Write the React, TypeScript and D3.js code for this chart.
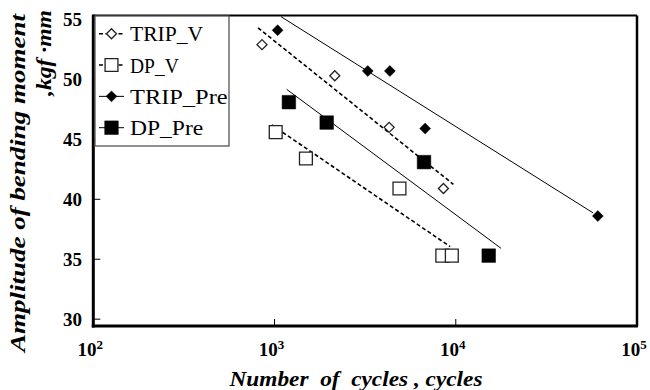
import React, { useEffect, useRef } from 'react';
import * as d3 from 'd3';

// measured points (cycles, amplitude kgf*mm)
const tripVCycles = [853, 2150, 4290, 8550];
const tripVAmp = [52.9, 50.3, 46.0, 40.9];
const dpVCycles = [1015, 1490, 4890, 8430, 9510];
const dpVAmp = [45.6, 43.4, 40.9, 35.3, 35.3];
const tripPreCycles = [1040, 3270, 4330, 6780, 60800];
const tripPreAmp = [54.1, 50.7, 50.7, 45.9, 38.6];
const dpPreCycles = [1200, 1940, 6680, 15200];
const dpPreAmp = [48.1, 46.4, 43.1, 35.3];

// fitted S-N lines (start / end)
const tripVFitCycles = [811, 9700];
const tripVFitAmp = [54.3, 41.25];
const dpVFitCycles = [966, 9310];
const dpVFitAmp = [46.2, 36.05];
const tripPreFitCycles = [1086, 57300];
const tripPreFitAmp = [55.23, 38.86];
const dpPreFitCycles = [1167, 17780];
const dpPreFitAmp = [49.17, 35.91];

const yTicks = [30, 35, 40, 45, 50, 55];
const xTickExps = [2, 3, 4, 5];
const seriesNames = ['TRIP_V', 'DP_V', 'TRIP_Pre', 'DP_Pre'];

const App = () => {
  const svgRef = useRef<SVGSVGElement>(null);

  useEffect(() => {
    const svg = d3.select(svgRef.current);
    svg.selectAll('*').remove();

    const left = 93.3, right = 637, top = 15.5, bottom = 326;
    const font = 'Liberation Serif, DejaVu Serif, serif';

    const x = d3.scaleLog().domain([1e2, 1e5]).range([left, right]);
    const y = d3.scaleLinear().domain([29.43, 55.33]).range([bottom, top]);

    const diamond = (d3 as any).symbolDiamond2 || d3.symbolDiamond;
    const series = [
      { name: seriesNames[0], cx: tripVCycles, cy: tripVAmp, fx: tripVFitCycles, fy: tripVFitAmp, sym: diamond, size: 64, fill: '#fff', dash: '4,2.5', lw: 1.6 },
      { name: seriesNames[1], cx: dpVCycles, cy: dpVAmp, fx: dpVFitCycles, fy: dpVFitAmp, sym: d3.symbolSquare, size: 165, fill: '#fff', dash: '4,2.5', lw: 1.6 },
      { name: seriesNames[2], cx: tripPreCycles, cy: tripPreAmp, fx: tripPreFitCycles, fy: tripPreFitAmp, sym: diamond, size: 76, fill: '#000', dash: null, lw: 1 },
      { name: seriesNames[3], cx: dpPreCycles, cy: dpPreAmp, fx: dpPreFitCycles, fy: dpPreFitAmp, sym: d3.symbolSquare, size: 185, fill: '#000', dash: null, lw: 1 },
    ];

    // fit lines
    series.forEach(s => {
      const pts = s.fx.map((c, i) => [x(c), y(s.fy[i])] as [number, number]);
      svg.append('path')
        .attr('d', d3.line()(pts))
        .attr('fill', 'none')
        .attr('stroke', '#000')
        .attr('stroke-width', s.lw)
        .attr('stroke-dasharray', s.dash);
    });

    // markers
    series.forEach(s => {
      svg.append('g').selectAll('path')
        .data(s.cx.map((c, i) => [c, s.cy[i]]))
        .join('path')
        .attr('transform', d => `translate(${x(d[0])},${y(d[1])})`)
        .attr('d', d3.symbol().type(s.sym).size(s.size)())
        .attr('fill', s.fill)
        .attr('stroke', s.fill === '#fff' ? '#222' : '#000')
        .attr('stroke-width', s.fill === '#fff' ? 1.3 : 0.5);
    });

    // ticks (inward)
    svg.append('g').selectAll('line')
      .data(yTicks)
      .join('line')
      .attr('x1', left).attr('x2', left + 7)
      .attr('y1', d => y(d)).attr('y2', d => y(d))
      .attr('stroke', '#000').attr('stroke-width', 1);
    svg.append('g').selectAll('line')
      .data(xTickExps)
      .join('line')
      .attr('x1', d => x(10 ** d)).attr('x2', d => x(10 ** d))
      .attr('y1', bottom).attr('y2', bottom - 7)
      .attr('stroke', '#000').attr('stroke-width', 1);

    // frame
    svg.append('line').attr('x1', left).attr('x2', right).attr('y1', top).attr('y2', top)
      .attr('stroke', '#000').attr('stroke-width', 2);
    svg.append('line').attr('x1', right).attr('x2', right).attr('y1', top).attr('y2', bottom)
      .attr('stroke', '#000').attr('stroke-width', 2.5);
    svg.append('line').attr('x1', left).attr('x2', left).attr('y1', top - 1).attr('y2', bottom + 1.5)
      .attr('stroke', '#000').attr('stroke-width', 3);
    svg.append('line').attr('x1', left - 1.5).attr('x2', right + 1).attr('y1', bottom).attr('y2', bottom)
      .attr('stroke', '#000').attr('stroke-width', 3);

    // tick labels
    svg.append('g').selectAll('text')
      .data(yTicks)
      .join('text')
      .attr('x', 82)
      .attr('y', d => y(d))
      .attr('dy', '0.35em')
      .attr('text-anchor', 'end')
      .attr('font-family', font)
      .attr('font-weight', 'bold')
      .attr('font-size', 19)
      .text(d => d);

    const xl = svg.append('g').selectAll('text')
      .data(xTickExps)
      .join('text')
      .attr('x', d => x(10 ** d) - 3)
      .attr('y', 356)
      .attr('text-anchor', 'middle')
      .attr('font-family', font)
      .attr('font-weight', 'bold')
      .attr('font-size', 19);
    xl.append('tspan').text('10');
    xl.append('tspan').attr('dy', -7).attr('font-size', 13).text(d => d);

    // legend
    const lg = svg.append('g');
    lg.append('rect')
      .attr('x', 95).attr('y', top + 0.5).attr('width', 134).attr('height', 130)
      .attr('fill', '#fff').attr('stroke', '#555').attr('stroke-width', 1.3);
    const rowY = d3.scalePoint().domain(seriesNames).range([33.7, 127.7]);
    series.forEach(s => {
      const cy = rowY(s.name) as number;
      lg.append('line')
        .attr('x1', 99).attr('x2', 124).attr('y1', cy).attr('y2', cy)
        .attr('stroke', '#000').attr('stroke-width', s.lw)
        .attr('stroke-dasharray', s.dash);
      lg.append('path')
        .attr('transform', `translate(111.5,${cy})`)
        .attr('d', d3.symbol().type(s.sym).size(s.size)())
        .attr('fill', s.fill)
        .attr('stroke', s.fill === '#fff' ? '#222' : '#000')
        .attr('stroke-width', s.fill === '#fff' ? 1.3 : 0.5);
      lg.append('text')
        .attr('x', 130).attr('y', cy).attr('dy', '0.35em')
        .attr('font-family', font)
        .attr('font-size', 22)
        .attr('textLength', s.name.length * 12.2)
        .attr('lengthAdjust', 'spacingAndGlyphs')
        .text(s.name);
    });

    // axis titles
    svg.append('text')
      .attr('x', 356).attr('y', 386)
      .attr('text-anchor', 'middle')
      .attr('font-family', font)
      .attr('font-weight', 'bold')
      .attr('font-style', 'italic')
      .attr('font-size', 22)
      .attr('textLength', 253)
      .attr('lengthAdjust', 'spacingAndGlyphs')
      .text('Number\u00a0\u00a0of\u00a0\u00a0cycles\u00a0,\u00a0cycles');

    svg.append('text')
      .attr('transform', 'translate(25,183) rotate(-90)')
      .attr('text-anchor', 'middle')
      .attr('font-family', font)
      .attr('font-weight', 'bold')
      .attr('font-style', 'italic')
      .attr('font-size', 22)
      .attr('textLength', 338)
      .attr('lengthAdjust', 'spacingAndGlyphs')
      .text('Amplitude of bending moment');

    svg.append('text')
      .attr('transform', 'translate(51,53) rotate(-90)')
      .attr('text-anchor', 'middle')
      .attr('font-family', font)
      .attr('font-weight', 'bold')
      .attr('font-style', 'italic')
      .attr('font-size', 22)
      .attr('textLength', 86)
      .attr('lengthAdjust', 'spacingAndGlyphs')
      .text(',kgf\u00a0·mm');
  }, []);

  return (
    <svg
      ref={svgRef}
      width={650}
      height={390}
      style={{ position: 'absolute', left: 0, top: 0, background: '#fff' }}
    />
  );
};

export default App;
